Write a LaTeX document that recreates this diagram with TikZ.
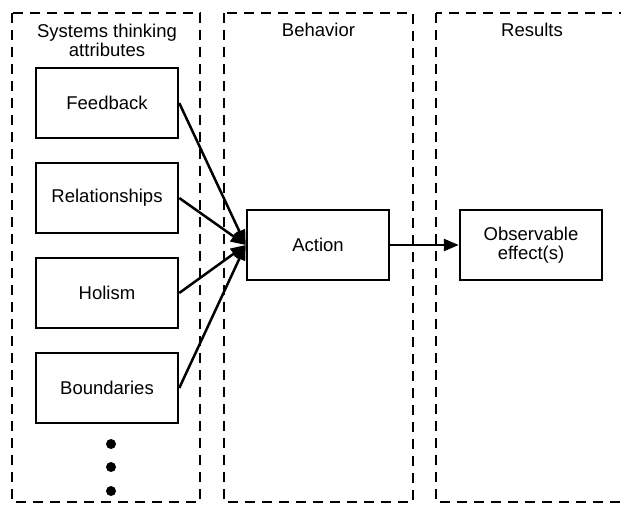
\documentclass[tikz,border=0pt]{standalone}
\usepackage{fontspec}
\setmainfont{Liberation Sans}
\usetikzlibrary{arrows.meta}
\begin{document}
\begin{tikzpicture}[x=1pt,y=-1pt,
  panel/.style={draw,line width=2.5pt,dash pattern=on 10pt off 7pt},
  attr/.style={draw,line width=2.5pt,minimum width=142pt,minimum height=70pt,inner sep=0pt,font=\fontsize{18.5}{21}\selectfont,align=center},
  hdr/.style={font=\fontsize{18.5}{21}\selectfont,align=center},
  conn/.style={line width=2.5pt,-{Triangle[length=15pt,width=12pt]}},
  dot/.style={circle,fill,inner sep=0pt,minimum size=10pt}]
\useasboundingbox (0,0) rectangle (621,504);
\begin{scope}
\clip (0,0) rectangle (621,504);
\draw[panel] (12,13) rectangle (200,502);
\draw[panel] (224,13) rectangle (413,502);
\draw[panel] (436,13) rectangle (630,502);
\end{scope}
\node[hdr] (h1) at (107,40) {Systems thinking\\[-2pt]attributes};
\node[hdr] (h2) at (318.5,30) {Behavior};
\node[hdr] (h3) at (532,30) {Results};
\node[attr] (fb) at (107,103) {Feedback};
\node[attr] (rel) at (107,198) {Relationships};
\node[attr] (hol) at (107,293) {Holism};
\node[attr] (bnd) at (107,388) {Boundaries};
\node[attr] (act) at (318,245) {Action};
\node[attr] (obs) at (531,245) {Observable\\[-2pt]effect(s)};
\node[dot] (d1) at (111,444) {};
\node[dot] (d2) at (111,467) {};
\node[dot] (d3) at (111,491) {};
\draw[conn] (fb.east) -- (act.west);
\draw[conn] (rel.east) -- (act.west);
\draw[conn] (hol.east) -- (act.west);
\draw[conn] (bnd.east) -- (act.west);
\draw[conn] (act.east) -- (obs.west);
\end{tikzpicture}
\end{document}
